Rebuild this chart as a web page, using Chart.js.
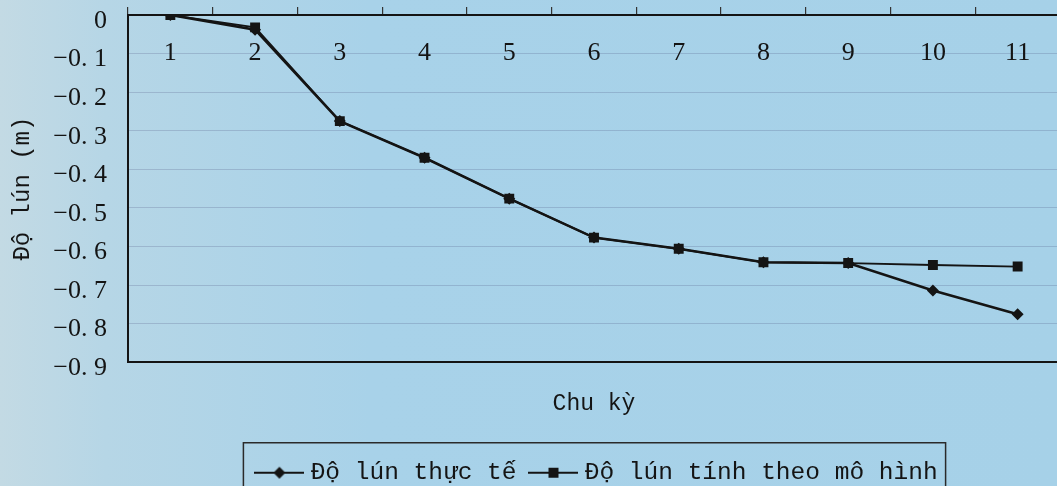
<!DOCTYPE html>
<html>
<head>
<meta charset="utf-8">
<script src="https://cdn.jsdelivr.net/npm/chart.js@4/dist/chart.umd.min.js"></script>
<style>
  html, body { margin: 0; padding: 0; overflow: hidden; }
  body {
    width: 1057px; height: 486px;
    background: linear-gradient(90deg, #c3dae4 0%, #b6d6e6 10%, #a8d2e9 35%, #a6d1e8 100%);
  }
  #wrap { position: relative; width: 1060px; height: 486px; }
</style>
</head>
<body>
<div id="wrap"><canvas id="chart-canvas"></canvas></div>
<script>
const cycles = ["1", "2", "3", "4", "5", "6", "7", "8", "9", "10", "11"];
const actualSettlement = [0, -0.038, -0.275, -0.37, -0.476, -0.577, -0.606, -0.641, -0.643, -0.714, -0.776];
const modelSettlement = [0, -0.032, -0.275, -0.37, -0.476, -0.577, -0.606, -0.641, -0.643, -0.648, -0.652];
const yTickLabels = ["0", "−0. 1", "−0. 2", "−0. 3", "−0. 4", "−0. 5", "−0. 6", "−0. 7", "−0. 8", "−0. 9"];
const seriesNames = ["Độ lún thực tế", "Độ lún tính theo mô hình"];

const ink = "#141414";

// little "—◆—" / "—■—" glyphs for the legend
const legendMarker = (shape) => {
  const c = document.createElement("canvas");
  c.width = 50;
  c.height = 14;
  const g = c.getContext("2d");
  g.strokeStyle = ink;
  g.lineWidth = 2;
  g.beginPath();
  g.moveTo(0, 7);
  g.lineTo(50, 7);
  g.stroke();
  g.fillStyle = ink;
  g.beginPath();
  if (shape === "diamond") {
    g.moveTo(19, 7);
    g.lineTo(25, 1);
    g.lineTo(31, 7);
    g.lineTo(25, 13);
  } else {
    g.rect(20, 2, 10, 10);
  }
  g.fill();
  return c;
};
const markers = [legendMarker("diamond"), legendMarker("square")];

// nudge legend a bit right, then frame it
const legendBorder = {
  id: "legendBorder",
  afterLayout(chart) {
    const lg = chart.legend;
    if (!lg) return;
    lg.left += 5;
    lg.right += 5;
  },
  afterDraw(chart) {
    const boxes = chart.legend && chart.legend.legendHitBoxes;
    if (!boxes || !boxes.length) return;
    const ctx = chart.ctx;
    const first = boxes[0];
    const last = boxes[boxes.length - 1];
    const left = first.left - 17;
    const right = last.left + last.width + 8;
    const top = first.top + first.height / 2 - 30;
    ctx.save();
    ctx.strokeStyle = "#2a2a2a";
    ctx.lineWidth = 1.5;
    ctx.strokeRect(left, top, right - left, chart.height - top + 20);
    ctx.restore();
  },
};

let chart = new Chart(document.getElementById("chart-canvas").getContext("2d"), {
  type: "line",
  data: {
    labels: cycles,
    datasets: [
      {
        label: seriesNames[0],
        data: actualSettlement,
        borderColor: ink,
        backgroundColor: ink,
        borderWidth: 2.6,
        pointStyle: "rectRot",
        pointRadius: 6,
        pointBorderWidth: 0,
        tension: 0,
        fill: false,
        order: 1,
      },
      {
        label: seriesNames[1],
        data: modelSettlement,
        borderColor: ink,
        backgroundColor: ink,
        borderWidth: 1.8,
        pointStyle: "rect",
        pointRadius: 7,
        pointBorderWidth: 0,
        tension: 0,
        fill: false,
        order: 0,
      },
    ],
  },
  options: {
    responsive: true,
    maintainAspectRatio: false,
    animation: false,
    layout: { autoPadding: false, padding: { top: 0, left: 0, right: 0, bottom: -9 } },
    plugins: {
      tooltip: { enabled: false },
      legend: {
        position: "bottom",
        fullSize: false,
        labels: {
          color: ink,
          font: { family: "Liberation Mono", size: 24.5 },
          usePointStyle: true,
          pointStyleWidth: 38,
          padding: 18,
          generateLabels: (c) =>
            c.data.datasets.map((ds, i) => ({
              text: ds.label,
              pointStyle: markers[i],
              fillStyle: "transparent",
              strokeStyle: "transparent",
              lineWidth: 0,
              hidden: false,
              datasetIndex: i,
              fontColor: ink,
            })),
        },
      },
    },
    scales: {
      x: {
        type: "category",
        position: "top",
        offset: true,
        grid: {
          offset: true,
          drawOnChartArea: false,
          drawTicks: true,
          tickLength: 8,
          color: "#333",
          lineWidth: 1.2,
        },
        border: { color: ink, width: 2 },
        ticks: {
          mirror: true,
          padding: 0,
          color: ink,
          font: { family: "Liberation Serif", size: 26, lineHeight: "76px" },
          maxRotation: 0,
          autoSkip: false,
        },
        afterFit: (scale) => {
          scale.height = 15;
        },
      },
      x2: {
        type: "category",
        position: "bottom",
        offset: true,
        grid: { drawOnChartArea: false, drawTicks: false },
        border: { color: ink, width: 2 },
        ticks: { display: false },
        title: {
          display: true,
          text: "Chu kỳ",
          color: ink,
          font: { family: "Liberation Mono", size: 23 },
          padding: { top: 27.7, bottom: 25 },
        },
      },
      y: {
        min: -0.9,
        max: 0,
        grid: {
          drawTicks: true,
          tickLength: 21,
          tickColor: "transparent",
          color: "rgba(60, 60, 110, 0.2)",
          lineWidth: 1,
        },
        border: { color: ink, width: 2 },
        ticks: {
          stepSize: 0.1,
          padding: 0,
          labelOffset: 6,
          color: ink,
          font: { family: "Liberation Serif", size: 26, lineHeight: 1 },
          callback: (value) => yTickLabels[Math.round(-value * 10)],
        },
        title: {
          display: true,
          text: "Độ lún (m)",
          color: ink,
          font: { family: "Liberation Mono", size: 24 },
          padding: { top: 8.6, bottom: 0 },
        },
        afterFit: (scale) => {
          scale.width = 128;
        },
      },
    },
  },
  plugins: [legendBorder],
});
</script>
</body>
</html>
